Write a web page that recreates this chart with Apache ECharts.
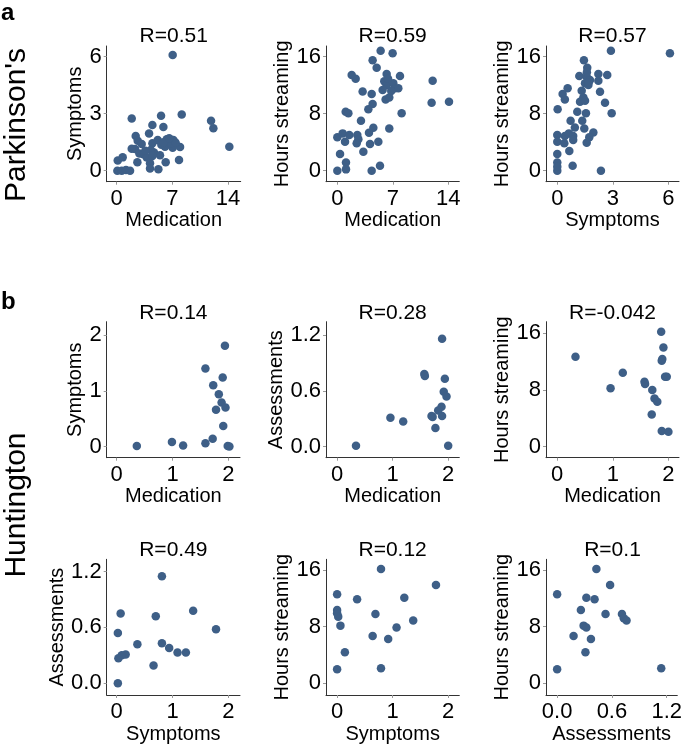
<!DOCTYPE html>
<html>
<head>
<meta charset="utf-8">
<script src="https://cdn.jsdelivr.net/npm/echarts@6/dist/echarts.min.js"></script>
<style>
html,body{margin:0;padding:0;background:#fff;}
#chart{width:685px;height:747px;}
</style>
</head>
<body>
<div id="chart"></div>
<script>
// ---------- DATA ----------
const titles = ['R=0.51','R=0.59','R=0.57','R=0.14','R=0.28','R=-0.042','R=0.49','R=0.12','R=0.1'];
const xNames = ['Medication','Medication','Symptoms','Medication','Medication','Medication','Symptoms','Symptoms','Assessments'];
const yNames = ['Symptoms','Hours streaming','Hours streaming','Symptoms','Assessments','Hours streaming','Assessments','Hours streaming','Hours streaming'];

const ticksMed14 = [0, 7, 14];
const ticksSym6 = [0, 3, 6];
const ticksHours = [0, 8, 16];
const ticks012 = [0, 1, 2];
const ticksAssess = [0, 0.6, 1.2];

// Parkinson's
const pdMedication_Symptoms = [
 [7.04,6.09],[1.89,2.75],[5.58,2.89],[8.18,2.96],[11.87,2.63],[12.16,2.23],[14.17,1.26],
 [4.49,2.40],[5.87,2.30],[4.07,1.96],[2.39,1.82],[2.64,1.58],[3.14,1.40],[2.31,1.14],
 [2.85,0.91],[3.35,0.86],[2.60,0.44],[3.77,0.70],[4.49,1.44],[4.70,0.95],[5.45,0.81],
 [6.29,1.65],[6.50,1.44],[7.13,1.61],[6.08,1.26],[7.04,1.21],[7.97,1.25],[7.84,0.56],
 [6.16,0.44],[4.19,0.39],[4.19,0.12],[5.24,0.07],[0.13,0.53],[0.75,0.70],[0.08,0.0],
 [0.63,0.0],[1.17,0.04],[1.68,0.0],[4.28,1.09],[5.16,1.61],[5.62,1.37],[6.83,1.44],
 [7.42,1.47],[4.49,0.77],[1.89,1.16],[3.60,1.05],[5.90,1.50],[6.60,1.70]
];
const pdMedication_Hours = [
 [5.46,16.84],[6.97,16.47],[4.45,15.49],[4.96,14.46],[1.81,13.43],[2.31,12.91],[6.22,13.57],
 [7.90,13.29],[12.02,12.63],[5.92,12.54],[6.22,11.98],[5.71,11.32],[7.06,12.26],[7.27,11.56],
 [7.69,11.56],[3.19,11.13],[4.33,10.76],[6.09,10.01],[6.55,10.29],[11.89,9.54],[14.08,9.68],
 [4.45,9.36],[3.91,8.61],[1.05,8.28],[1.39,8.05],[8.11,8.05],[2.98,7.02],[4.54,6.04],
 [3.99,5.33],[6.55,5.94],[0.0,4.68],[0.67,5.24],[1.51,5.01],[0.97,4.07],[2.52,5.01],
 [2.65,4.40],[2.44,3.84],[4.12,3.74],[5.17,4.07],[3.28,2.67],[0.34,2.34],[1.09,1.17],
 [0.0,0.0],[1.09,0.19],[4.33,0.0],[5.38,0.70],[6.40,12.90],[6.80,11.20]
];
const pdSymptoms_Hours = [
 [2.90,16.84],[6.09,16.47],[1.44,15.49],[1.62,14.46],[1.19,13.29],[2.22,13.57],[1.59,13.19],
 [1.77,12.73],[2.70,13.43],[2.22,12.63],[1.50,12.26],[1.68,12.02],[0.56,11.56],[0.29,10.76],
 [0.41,10.01],[2.31,11.09],[1.32,11.23],[1.41,10.29],[1.23,9.68],[1.50,9.82],[2.58,9.54],
 [0.02,8.61],[1.08,8.28],[1.55,8.05],[2.94,8.05],[1.35,7.02],[0.72,7.02],[0.95,6.08],
 [1.46,5.94],[1.95,5.38],[1.73,4.68],[1.59,3.93],[0.0,5.01],[0.0,4.07],[0.41,4.87],
 [0.63,5.24],[0.86,4.87],[0.38,3.84],[0.86,4.30],[0.65,2.76],[0.0,2.34],[0.0,1.17],
 [0.0,0.0],[0.83,0.70],[2.36,0.0],[0.0,0.56],[1.70,12.40],[1.60,13.80]
];

// Huntington
const hdMedication_Symptoms = [
 [0.36,0.01],[0.99,0.08],[1.19,0.02],[1.59,1.40],[1.94,1.81],[1.90,1.24],[1.73,1.10],
 [1.83,0.94],[1.88,0.79],[1.95,0.70],[1.78,0.66],[1.91,0.37],[1.72,0.14],[1.59,0.06],
 [1.99,0.01],[2.02,0.0]
];
const hdMedication_Assessments = [
 [0.34,0.01],[0.96,0.31],[1.19,0.27],[1.57,0.78],[1.58,0.76],[1.89,1.16],[1.94,0.73],
 [1.92,0.59],[1.97,0.54],[1.88,0.43],[1.82,0.39],[1.72,0.32],[1.89,0.33],[1.77,0.20],
 [2.00,0.01],[1.70,0.33]
];
const hdMedication_Hours = [
 [0.33,12.71],[0.96,8.24],[1.18,10.45],[1.57,9.18],[1.58,8.85],[1.71,8.00],[1.75,6.82],
 [1.80,6.35],[1.70,4.56],[1.87,16.24],[1.91,14.02],[1.88,12.14],[1.89,12.40],[1.94,9.88],
 [1.97,9.88],[1.88,2.21],[2.00,2.12]
];
const hdSymptoms_Assessments = [
 [0.81,1.15],[0.07,0.75],[0.70,0.72],[1.37,0.78],[1.78,0.58],[0.02,0.54],[0.37,0.42],
 [0.81,0.43],[0.94,0.38],[1.09,0.33],[1.24,0.33],[0.16,0.31],[0.09,0.30],[0.03,0.27],
 [0.66,0.19],[0.02,0.0]
];
const hdSymptoms_Hours = [
 [0.79,16.14],[1.78,13.88],[0.0,12.56],[0.36,11.86],[1.21,12.09],[0.0,10.35],[0.0,9.88],
 [0.02,9.41],[0.69,9.79],[1.37,8.85],[0.06,8.14],[1.07,7.86],[0.64,6.68],[0.92,6.26],
 [0.14,4.38],[0.0,1.98],[0.79,2.12]
];
const hdAssessments_Hours = [
 [0.43,16.14],[0.58,13.88],[0.0,12.56],[0.32,12.09],[0.41,11.86],[0.26,10.35],[0.53,9.79],
 [0.71,9.79],[0.73,9.18],[0.76,8.85],[0.29,8.14],[0.32,7.86],[0.18,6.68],[0.37,6.26],
 [0.31,4.38],[0.0,1.98],[1.14,2.12]
];

// ---------- LAYOUT ----------
const FONT = 'Liberation Sans, Arial, sans-serif';
const DOT = '#3e5f87';
const panels = [
 {g:[106.7,46,134,135.7],   x:[-1.26,15.6], y:[-0.58,6.56],  xt:ticksMed14, yt:ticksSym6,  d:pdMedication_Symptoms, gap:21, xd:0, yd:0},
 {g:[326,46,133.3,135.7],   x:[-1.43,15.38],y:[-1.54,17.5],  xt:ticksMed14, yt:ticksHours, d:pdMedication_Hours, gap:34, xd:0, yd:0},
 {g:[546,46,133,135.7],     x:[-0.61,6.58], y:[-1.54,17.5],  xt:ticksSym6,  yt:ticksHours, d:pdSymptoms_Hours, gap:34, xd:0, yd:0},
 {g:[106.7,321.7,133.3,136],x:[-0.18,2.21], y:[-0.20,2.24],  xt:ticks012,   yt:ticks012,   d:hdMedication_Symptoms, gap:21, xd:0, yd:0},
 {g:[326,321.7,133.3,136],  x:[-0.2,2.2],   y:[-0.118,1.343],xt:ticks012,   yt:ticksAssess,d:hdMedication_Assessments, gap:39, xd:0, yd:1},
 {g:[546,321.7,133,136],    x:[-0.2,2.19],  y:[-1.55,17.65], xt:ticks012,   yt:ticksHours, d:hdMedication_Hours, gap:34, xd:0, yd:0},
 {g:[106.7,559.3,133.3,135.7],x:[-0.18,2.21],y:[-0.126,1.332],xt:ticks012,  yt:ticksAssess,d:hdSymptoms_Assessments, gap:39, xd:0, yd:1},
 {g:[326,559.3,133.3,135.7],x:[-0.2,2.2],   y:[-1.65,17.5],  xt:ticks012,   yt:ticksHours, d:hdSymptoms_Hours, gap:34, xd:0, yd:0},
 {g:[546,559.3,133,135.7],  x:[-0.122,1.316],y:[-1.65,17.5], xt:ticksAssess,yt:ticksHours, d:hdAssessments_Hours, gap:34, xd:1, yd:0}
];
const titleY = [26,26,26,302.5,302.5,302.5,540,540,540];

const grid=[], xAxis=[], yAxis=[], series=[], title=[];
panels.forEach((p,i)=>{
  grid.push({left:p.g[0], top:p.g[1], width:p.g[2], height:p.g[3], containLabel:false});
  const lineStyle={color:'#333',width:1};
  xAxis.push({
    type:'value', gridIndex:i, min:p.x[0], max:p.x[1],
    name:xNames[i], nameLocation:'middle', nameGap:29,
    nameTextStyle:{fontFamily:FONT,fontSize:20,color:'#000'},
    axisLine:{show:true,onZero:false,lineStyle},
    axisTick:{show:true,length:3,customValues:p.xt,lineStyle:{color:'#999'}},
    axisLabel:{customValues:p.xt,margin:6,fontFamily:FONT,fontSize:22,color:'#000',
      formatter:v=>p.xd?Number(v).toFixed(p.xd):String(Math.round(v))},
    splitLine:{show:false}
  });
  yAxis.push({
    type:'value', gridIndex:i, min:p.y[0], max:p.y[1],
    name:yNames[i], nameLocation:'middle', nameGap:p.gap,
    nameTextStyle:{fontFamily:FONT,fontSize:20,color:'#000'},
    axisLine:{show:true,onZero:false,lineStyle},
    axisTick:{show:true,length:3,customValues:p.yt,lineStyle:{color:'#999'}},
    axisLabel:{customValues:p.yt,margin:5,fontFamily:FONT,fontSize:22,color:'#000',
      formatter:v=>p.yd?Number(v).toFixed(p.yd):String(Math.round(v))},
    splitLine:{show:false}
  });
  series.push({type:'scatter', xAxisIndex:i, yAxisIndex:i, data:p.d, symbolSize:8.5,
    itemStyle:{color:DOT,opacity:1}, silent:true});
  title.push({text:titles[i], left:p.g[0]+p.g[2]/2, top:titleY[i], textAlign:'center', padding:0,
    textStyle:{fontFamily:FONT,fontSize:21,fontWeight:'normal',color:'#000'}});
});

const chart = echarts.init(document.getElementById('chart'), null, {renderer:'canvas'});
chart.setOption({
  animation:false,
  backgroundColor:'#fff',
  title, grid, xAxis, yAxis, series,
  graphic:[
    {type:'text', left:1, top:1, style:{text:'a', font:'bold 24px '+FONT, fill:'#000'}},
    {type:'text', left:1, top:290, style:{text:'b', font:'bold 24px '+FONT, fill:'#000'}},
    {type:'text', x:17, y:125, rotation:Math.PI/2,
      style:{text:"Parkinson's", font:'30px '+FONT, fill:'#000', textAlign:'center', textVerticalAlign:'middle'}},
    {type:'text', x:17, y:505, rotation:Math.PI/2,
      style:{text:'Huntington', font:'30px '+FONT, fill:'#000', textAlign:'center', textVerticalAlign:'middle'}}
  ]
});
</script>
</body>
</html>
